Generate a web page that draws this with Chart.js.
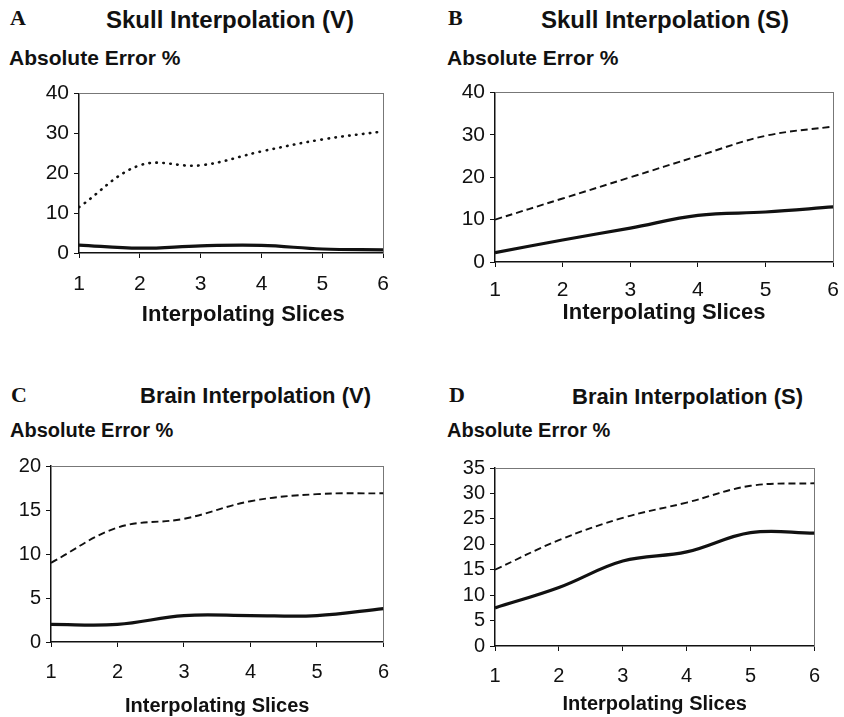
<!DOCTYPE html>
<html>
<head>
  <title>Interpolation Error</title>
  <script src="https://cdn.jsdelivr.net/npm/chart.js"></script>
  <style>
    body {
      margin: 0;
      background: #fff;
      width: 844px;
      height: 717px;
      overflow: hidden;
      position: relative;
      font-family: 'Liberation Sans', Arial, sans-serif;
      color: #111;
    }
    .txt {
      position: absolute;
      white-space: nowrap;
      line-height: 1;
      font-weight: bold;
    }
    .letter {
      font-family: 'Liberation Serif', 'Times New Roman', serif;
    }
    canvas {
      position: absolute;
    }
  </style>
</head>
<body>
  <!-- panel headings -->
  <div class="txt letter" style="left:10px; top:7px; font-size:22px;">A</div>
  <div class="txt" style="left:106px; top:8px; font-size:24px;">Skull Interpolation (V)</div>
  <div class="txt" style="left:9px; top:47px; font-size:21px;">Absolute Error %</div>

  <div class="txt letter" style="left:448px; top:7px; font-size:22px;">B</div>
  <div class="txt" style="left:541px; top:8px; font-size:24px;">Skull Interpolation (S)</div>
  <div class="txt" style="left:447px; top:47px; font-size:21px;">Absolute Error %</div>

  <div class="txt letter" style="left:11px; top:384px; font-size:22px;">C</div>
  <div class="txt" style="left:140px; top:385px; font-size:22px;">Brain Interpolation (V)</div>
  <div class="txt" style="left:10px; top:420px; font-size:20px;">Absolute Error %</div>

  <div class="txt letter" style="left:449px; top:384px; font-size:22px;">D</div>
  <div class="txt" style="left:572px; top:386px; font-size:22px;">Brain Interpolation (S)</div>
  <div class="txt" style="left:447px; top:420px; font-size:20px;">Absolute Error %</div>

  <canvas id="chartA"></canvas>
  <canvas id="chartB"></canvas>
  <canvas id="chartC"></canvas>
  <canvas id="chartD"></canvas>

  <script>
    // x values shared by all four panels
    const slices = [1, 2, 3, 4, 5, 6];

    // A - skull, volume
    const skullVDotted = [11.5, 22, 22, 25.5, 28.5, 30.5];
    const skullVSolid  = [2, 1.2, 1.8, 1.9, 1, 0.8];
    // B - skull, surface
    const skullSDashed = [10, 15, 20, 25, 29.8, 32];
    const skullSSolid  = [2.2, 5.2, 8, 11, 11.8, 13];
    // C - brain, volume
    const brainVDashed = [9, 13, 14, 16, 16.8, 16.9];
    const brainVSolid  = [2, 2, 3, 3, 3, 3.8];
    // D - brain, surface
    const brainSDashed = [15, 20.8, 25.2, 28.2, 31.5, 32];
    const brainSSolid  = [7.5, 11.5, 16.7, 18.5, 22.3, 22.2];

    const FONT = "'Liberation Sans', Arial, sans-serif";
    const YW = 60;   // width kept for the y axis
    const PT = 14;   // room above the plot for the top tick label
    const PR = 14;   // room right of the plot for the last tick label

    function pts(ys) {
      return ys.map((y, i) => ({ x: slices[i], y: y }));
    }

    // build one panel so that its plot area lands on the given box
    function makePanel(id, box, yMax, yStep, series, fs, xTitle) {
      const canvas = document.getElementById(id);
      const w = box.r - box.l + YW + PR;
      const h = box.b - box.t + PT + box.xh;
      canvas.width = w;
      canvas.height = h;
      canvas.style.left = (box.l - YW) + 'px';
      canvas.style.top = (box.t - PT) + 'px';

      const frame = {
        display: true,
        grid: { drawOnChartArea: false, drawTicks: false },
        ticks: { display: false },
        border: { display: true, color: '#777', dash: [1, 2], width: 1 }
      };

      return new Chart(canvas.getContext('2d'), {
        type: 'line',
        data: {
          datasets: series.map(s => ({
            label: s.label,
            data: pts(s.data),
            borderColor: '#111',
            borderWidth: s.width,
            borderDash: s.dash,
            borderCapStyle: s.cap || 'butt',
            pointRadius: 0,
            tension: 0.38,
            fill: false
          }))
        },
        options: {
          responsive: false,
          animation: false,
          devicePixelRatio: 1,
          layout: { padding: { top: PT, right: PR, left: 0, bottom: 0 } },
          plugins: {
            legend: { display: false },
            tooltip: { enabled: false }
          },
          scales: {
            x: {
              type: 'linear',
              min: 1,
              max: 6,
              grid: { drawOnChartArea: false, tickLength: 5, color: '#111' },
              border: { color: '#111', width: 1.5 },
              ticks: {
                stepSize: 1,
                autoSkip: false,
                color: '#111',
                padding: box.tp,
                font: { family: FONT, size: fs.tick }
              },
              title: {
                display: true,
                text: xTitle,
                color: '#111',
                padding: 0,
                font: { family: FONT, size: fs.xt, weight: 'bold' }
              },
              afterFit: s => { s.height = box.xh; }
            },
            y: {
              min: 0,
              max: yMax,
              grid: { drawOnChartArea: false, tickLength: 5, color: '#111' },
              border: { color: '#111', width: 1.5 },
              ticks: {
                stepSize: yStep,
                autoSkip: false,
                color: '#111',
                padding: 5,
                font: { family: FONT, size: fs.tick }
              },
              afterFit: s => { s.width = YW; }
            },
            x2: Object.assign({ type: 'linear', position: 'top', afterFit: s => { s.height = 0; } }, frame),
            y2: Object.assign({ type: 'linear', position: 'right', afterFit: s => { s.width = 0; } }, frame)
          }
        }
      });
    }

    const bigFont = { tick: 21, xt: 22 };
    const smallFont = { tick: 20, xt: 20 };

    // panel A's axis title sits a little right of the plot centre
    makePanel('chartA', { l: 79, r: 389, t: 90, b: 253, xh: 75, tp: 14 }, 40, 10, [
      { label: 'dotted', data: skullVDotted, width: 2.6, dash: [0.5, 6.5], cap: 'round' },
      { label: 'solid', data: skullVSolid, width: 3.2, dash: [] }
    ], bigFont, '    Interpolating Slices');

    makePanel('chartB', { l: 495, r: 836, t: 89, b: 262, xh: 64, tp: 11 }, 40, 10, [
      { label: 'dashed', data: skullSDashed, width: 1.9, dash: [7, 4] },
      { label: 'solid', data: skullSSolid, width: 3.2, dash: [] }
    ], bigFont, 'Interpolating Slices');

    makePanel('chartC', { l: 51, r: 388, t: 463, b: 642, xh: 76, tp: 13 }, 20, 5, [
      { label: 'dashed', data: brainVDashed, width: 1.9, dash: [7, 4] },
      { label: 'solid', data: brainVSolid, width: 3.2, dash: [] }
    ], smallFont, 'Interpolating Slices');

    makePanel('chartD', { l: 495, r: 819, t: 465, b: 646, xh: 70, tp: 13 }, 35, 5, [
      { label: 'dashed', data: brainSDashed, width: 1.9, dash: [7, 4] },
      { label: 'solid', data: brainSSolid, width: 3.2, dash: [] }
    ], smallFont, 'Interpolating Slices');
  </script>
</body>
</html>
